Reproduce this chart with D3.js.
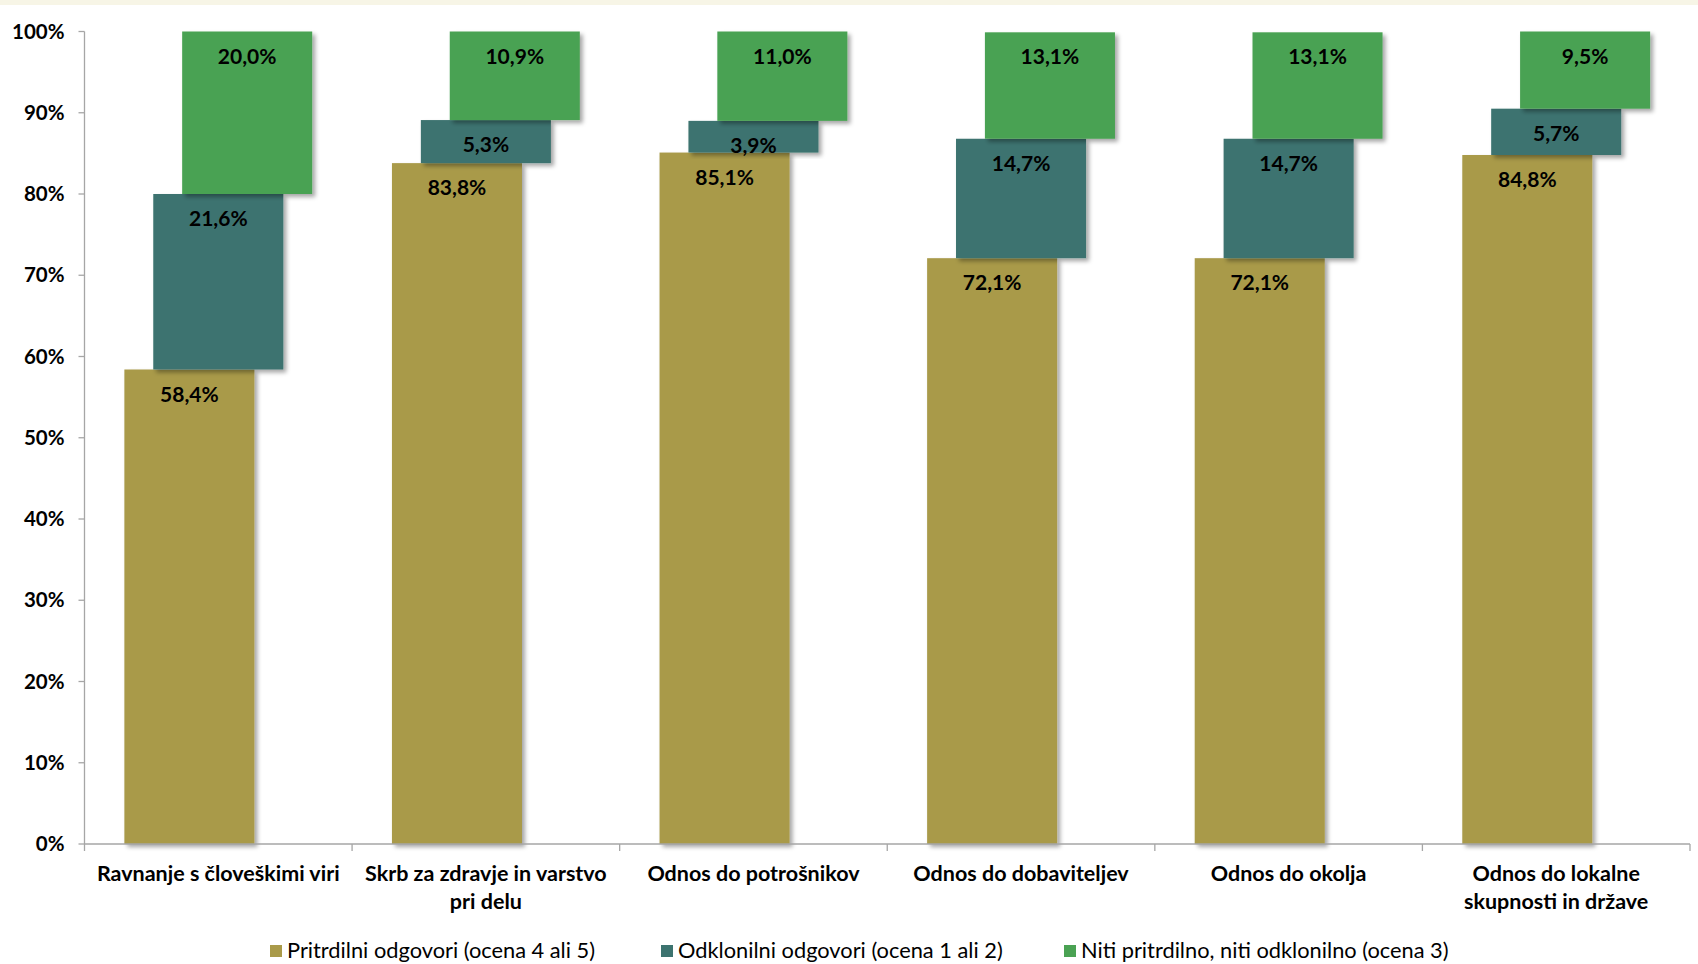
<!DOCTYPE html>
<html>
<head>
<meta charset="utf-8">
<script src="https://cdn.jsdelivr.net/npm/d3@7"></script>
<style>
  body { margin: 0; background: #fff; }
  svg { display: block; font-family: Lato, "Open Sans", sans-serif; }
</style>
</head>
<body>
<div id="chart"></div>
<script>
// Podatki
var kategorije = [
  "Ravnanje s človeškimi viri",
  "Skrb za zdravje in varstvo|pri delu",
  "Odnos do potrošnikov",
  "Odnos do dobaviteljev",
  "Odnos do okolja",
  "Odnos do lokalne|skupnosti in države"
];
var pritrdilni = [58.4, 83.8, 85.1, 72.1, 72.1, 84.8];
var odklonilni = [21.6, 5.3, 3.9, 14.7, 14.7, 5.7];
var niti = [20.0, 10.9, 11.0, 13.1, 13.1, 9.5];
var yTicks = [0, 10, 20, 30, 40, 50, 60, 70, 80, 90, 100];

var serije = [
  { ime: "Pritrdilni odgovori (ocena 4 ali 5)", vrednosti: pritrdilni, barva: "#A99A49" },
  { ime: "Odklonilni odgovori (ocena 1 ali 2)", vrednosti: odklonilni, barva: "#3C736F" },
  { ime: "Niti pritrdilno, niti odklonilno (ocena 3)", vrednosti: niti, barva: "#4AA253" }
];

var svgWidth = 1698;
var svgHeight = 964;
var plot = { left: 84.5, right: 1690, top: 31.5, bottom: 844 };

var svg = d3.select("#chart")
  .append("svg")
  .attr("width", svgWidth)
  .attr("height", svgHeight);

// senca stolpcev
var defs = svg.append("defs");
defs.append("filter").attr("id", "senca")
  .attr("x", "-10%").attr("y", "-10%").attr("width", "130%").attr("height", "130%")
  .append("feDropShadow")
  .attr("dx", 3).attr("dy", 3).attr("stdDeviation", 2)
  .attr("flood-color", "#000").attr("flood-opacity", 0.35);

// kremni pas na vrhu
svg.append("rect").attr("x", 0).attr("y", 0).attr("width", svgWidth).attr("height", 5)
  .attr("fill", "#F7F5E6");

var x = d3.scaleBand()
  .domain(d3.range(kategorije.length))
  .range([plot.left, plot.right]);

var y = d3.scaleLinear()
  .domain([0, 100])
  .range([plot.bottom, plot.top]);

// sirina stolpca in zamik med serijami
var barW = x.bandwidth() * 0.486;
var zamik = x.bandwidth() * 0.108;

// os Y
svg.append("line")
  .attr("x1", plot.left).attr("x2", plot.left)
  .attr("y1", y(100)).attr("y2", y(0))
  .attr("stroke", "#A6A6A6").attr("stroke-width", 1.3);

yTicks.forEach(function(t) {
  svg.append("line")
    .attr("x1", plot.left - 6).attr("x2", plot.left)
    .attr("y1", y(t)).attr("y2", y(t))
    .attr("stroke", "#A6A6A6").attr("stroke-width", 1.3);
  svg.append("text")
    .attr("x", plot.left - 20).attr("y", y(t))
    .attr("dy", "0.35em")
    .attr("text-anchor", "end")
    .attr("font-size", 20.5).attr("font-weight", "bold")
    .text(t + "%");
});

// stolpci
kategorije.forEach(function(k, i) {
  var sredina = x(i) + x.bandwidth() / 2;
  var osnova = 0;
  serije.forEach(function(s, j) {
    var v = s.vrednosti[i];
    var x0 = sredina - barW / 2 + (j - 1) * zamik;
    svg.append("rect")
      .attr("x", x0)
      .attr("y", y(osnova + v))
      .attr("width", barW)
      .attr("height", y(osnova) - y(osnova + v))
      .attr("fill", s.barva)
      .attr("filter", "url(#senca)");
    svg.append("text")
      .attr("x", x0 + barW / 2)
      .attr("y", y(osnova + v) + 32)
      .attr("text-anchor", "middle")
      .attr("font-size", 21).attr("font-weight", "bold")
      .text(d3.format(".1f")(v).replace(".", ",") + "%");
    osnova += v;
  });
});

// os X
svg.append("line")
  .attr("x1", plot.left).attr("x2", plot.right)
  .attr("y1", y(0)).attr("y2", y(0))
  .attr("stroke", "#A6A6A6").attr("stroke-width", 1.3);

d3.range(kategorije.length + 1).forEach(function(i) {
  var xx = plot.left + i * x.step();
  svg.append("line")
    .attr("x1", xx).attr("x2", xx)
    .attr("y1", y(0)).attr("y2", y(0) + 7)
    .attr("stroke", "#A6A6A6").attr("stroke-width", 1.3);
});

kategorije.forEach(function(k, i) {
  var t = svg.append("text")
    .attr("x", x(i) + x.bandwidth() / 2)
    .attr("y", 881)
    .attr("text-anchor", "middle")
    .attr("font-size", 21.5).attr("font-weight", "bold");
  k.split("|").forEach(function(vrstica, n) {
    t.append("tspan")
      .attr("x", x(i) + x.bandwidth() / 2)
      .attr("dy", n === 0 ? 0 : 28)
      .text(vrstica);
  });
});

// legenda
var legendaX = [270, 661, 1064];
serije.forEach(function(s, j) {
  svg.append("rect")
    .attr("x", legendaX[j]).attr("y", 945)
    .attr("width", 12).attr("height", 12)
    .attr("fill", s.barva);
  svg.append("text")
    .attr("x", legendaX[j] + 17).attr("y", 958)
    .attr("font-size", 21.8)
    .text(s.ime);
});
</script>
</body>
</html>
